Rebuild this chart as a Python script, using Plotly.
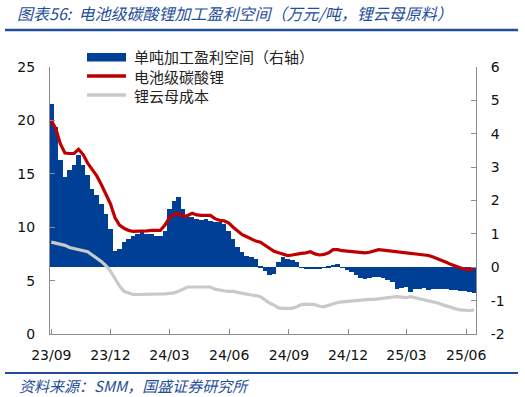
import pandas as pd
import plotly.graph_objects as go

# ---- data (weekly readings, 2023-09-01 .. 2025-06-13) ----
dates = pd.date_range("2023-09-01", periods=94, freq="7D")

# 电池级碳酸锂 (万元/吨, left axis)
li2co3 = [20.0, 19.2, 17.8, 16.95, 16.9, 16.9, 17.3, 16.8, 16.0, 15.4,
          14.8, 14.0, 13.1, 12.2, 10.9, 10.2, 9.9, 9.7, 9.6, 9.6,
          9.65, 9.65, 9.7, 9.7, 9.7, 10.2, 10.9, 11.2, 11.3, 11.0,
          11.1, 11.3, 11.15, 11.1, 11.1, 11.1, 10.8, 10.65, 10.6, 10.4,
          10.0, 9.6, 9.3, 9.1, 8.9, 8.7, 8.6, 8.3, 8.0, 7.75,
          7.6, 7.5, 7.35, 7.4, 7.5, 7.55, 7.6, 7.7, 7.5, 7.4,
          7.45, 7.6, 7.9, 7.9, 7.8, 7.75, 7.7, 7.65, 7.6, 7.6,
          7.65, 7.8, 7.9, 7.85, 7.8, 7.8, 7.7, 7.65, 7.6, 7.6,
          7.55, 7.5, 7.45, 7.35, 7.2, 7.05, 6.85, 6.7, 6.5, 6.35,
          6.15, 6.05, 6.05, 6.1]

# 锂云母成本 (万元/吨, left axis)
lepidolite_cost = [8.6, 8.5, 8.4, 8.3, 8.1, 8.0, 7.9, 7.8, 7.7, 7.4,
                   7.1, 6.8, 6.4, 5.9, 5.2, 4.5, 4.0, 3.85, 3.7, 3.7,
                   3.7, 3.7, 3.7, 3.7, 3.7, 3.75, 3.8, 3.85, 4.0, 4.2,
                   4.4, 4.4, 4.4, 4.4, 4.4, 4.4, 4.2, 4.1, 4.05, 4.0,
                   4.0, 3.9, 3.8, 3.7, 3.65, 3.6, 3.5, 3.2, 2.9, 2.7,
                   2.45, 2.4, 2.4, 2.4, 2.55, 2.75, 2.8, 2.8, 2.75, 2.6,
                   2.55, 2.7, 2.85, 2.95, 3.0, 3.05, 3.1, 3.15, 3.2, 3.2,
                   3.25, 3.25, 3.3, 3.3, 3.4, 3.45, 3.5, 3.45, 3.4, 3.5,
                   3.4, 3.3, 3.25, 3.1, 3.0, 2.9, 2.75, 2.6, 2.5, 2.35,
                   2.25, 2.2, 2.2, 2.25]

# 单吨加工盈利空间 (万元/吨, right axis)
profit = [4.9, 4.2, 3.2, 2.7, 2.9, 3.05, 3.35, 3.05, 2.75, 2.35,
          2.15, 1.9, 1.6, 1.15, 0.5, 0.55, 0.75, 0.85, 0.95, 1.0,
          1.05, 1.0, 1.0, 0.95, 0.95, 1.1, 1.75, 2.0, 2.1, 1.75,
          1.5, 1.5, 1.45, 1.43, 1.45, 1.4, 1.36, 1.36, 1.3, 1.1,
          0.85, 0.6, 0.45, 0.35, 0.3, 0.25, 0.05, -0.1, -0.22, -0.2,
          0.15, 0.3, 0.25, 0.22, 0.15, -0.02, -0.04, -0.05, -0.04, -0.03,
          -0.02, 0.02, 0.06, 0.1, -0.01, -0.08, -0.15, -0.22, -0.32, -0.36,
          -0.33, -0.3, -0.3, -0.33, -0.37, -0.45, -0.66, -0.63, -0.6, -0.75,
          -0.65, -0.64, -0.62, -0.67, -0.66, -0.66, -0.66, -0.66, -0.67, -0.68,
          -0.7, -0.72, -0.75, -0.78]

tick_dates = ["2023-09-01", "2023-12-01", "2024-03-01", "2024-06-01",
              "2024-09-01", "2024-12-01", "2025-03-01", "2025-06-01"]
tick_labels = ["23/09", "23/12", "24/03", "24/06", "24/09", "24/12", "25/03", "25/06"]
left_ticks = [0, 5, 10, 15, 20, 25]
right_ticks = [-2, -1, 0, 1, 2, 3, 4, 5, 6]
right_labels = ["-2", "-1", "0", "1", "2", "3", "4", "5", "6"]

names = ["单吨加工盈利空间（右轴）", "电池级碳酸锂", "锂云母成本"]
title_text = "图表56:  电池级碳酸锂加工盈利空间（万元/吨，锂云母原料）"
source_text = "资料来源：SMM，国盛证券研究所"

BLUE = "#003F96"
RED = "#C00000"
GREY = "#C9C9C9"
AXIS = "#8C8C8C"
TITLE_BLUE = "#1F4E9A"

fig = go.Figure()
fig.add_trace(go.Bar(x=dates, y=profit, name=names[0], yaxis="y",
                     marker=dict(color=BLUE, line=dict(width=0))))
fig.add_trace(go.Scatter(x=dates, y=lepidolite_cost, name=names[2], yaxis="y2",
                         mode="lines", line=dict(color=GREY, width=3.2)))
fig.add_trace(go.Scatter(x=dates, y=li2co3, name=names[1], yaxis="y2",
                         mode="lines", line=dict(color=RED, width=3.2)))

L, R, T, B = 50, 49, 67, 63
PW, PH = 525 - L - R, 397 - T - B


def px(x):
    return (x - L) / PW


def py(y):
    return (397 - B - y) / PH


tickfont = dict(family="DejaVu Sans", size=14, color="#111111")
fig.update_layout(
    width=525, height=397,
    margin=dict(l=L, r=R, t=T, b=B, pad=0),
    paper_bgcolor="white", plot_bgcolor="white",
    showlegend=False, bargap=0,
    xaxis=dict(type="date", range=["2023-08-30", "2025-06-16"],
               tickvals=tick_dates, ticktext=tick_labels,
               ticks="inside", ticklen=5, tickcolor=AXIS,
               showline=True, linecolor=AXIS, linewidth=1,
               showgrid=False, zeroline=False, tickfont=tickfont,
               ticklabelstandoff=8, automargin=False),
    yaxis=dict(side="right", range=[-2, 6], tickvals=right_ticks, ticktext=right_labels,
               ticks="inside", ticklen=5, tickcolor=AXIS,
               showline=True, linecolor=AXIS, linewidth=1,
               showgrid=False, zeroline=False, tickfont=tickfont,
               ticklabelstandoff=11, automargin=False),
    yaxis2=dict(side="left", overlaying="y", range=[0, 25], tickvals=left_ticks,
                ticks="inside", ticklen=5, tickcolor=AXIS,
                showline=True, linecolor=AXIS, linewidth=1,
                showgrid=False, zeroline=False, tickfont=tickfont,
                ticklabelstandoff=11, automargin=False),
)

shapes = [
    # title & footer rules
    dict(type="line", xref="paper", yref="paper", x0=px(5), x1=px(518), y0=py(30), y1=py(30),
         line=dict(color=TITLE_BLUE, width=2.5)),
    dict(type="line", xref="paper", yref="paper", x0=px(5), x1=px(518), y0=py(373), y1=py(373),
         line=dict(color=TITLE_BLUE, width=2)),
    # legend swatches
    dict(type="rect", xref="paper", yref="paper", x0=px(87), x1=px(126), y0=py(61.5), y1=py(53),
         fillcolor=BLUE, line=dict(width=0)),
    dict(type="line", xref="paper", yref="paper", x0=px(87), x1=px(126), y0=py(76), y1=py(76),
         line=dict(color=RED, width=3.5)),
    dict(type="line", xref="paper", yref="paper", x0=px(87), x1=px(126), y0=py(95), y1=py(95),
         line=dict(color=GREY, width=3.5)),
]
fig.update_layout(shapes=shapes)

cjk = "Noto Sans CJK SC"
ann = [
    dict(text=f"<i>{title_text}</i>", x=px(15), y=py(13), xanchor="left", yanchor="middle",
         font=dict(family=cjk, size=16, color=TITLE_BLUE)),
    dict(text=f"<i>{source_text}</i>", x=px(17), y=py(385), xanchor="left", yanchor="middle",
         font=dict(family=cjk, size=15, color=TITLE_BLUE)),
    dict(text=names[0], x=px(132), y=py(57), xanchor="left", yanchor="middle",
         font=dict(family=cjk, size=15, color="#222222")),
    dict(text=names[1], x=px(132), y=py(76), xanchor="left", yanchor="middle",
         font=dict(family=cjk, size=15, color="#222222")),
    dict(text=names[2], x=px(132), y=py(95), xanchor="left", yanchor="middle",
         font=dict(family=cjk, size=15, color="#222222")),
]
for a in ann:
    a.update(xref="paper", yref="paper", showarrow=False)
fig.update_layout(annotations=ann)

fig.write_html("out.html", config={"displayModeBar": False},
               post_script="document.body.style.margin='0px';")
